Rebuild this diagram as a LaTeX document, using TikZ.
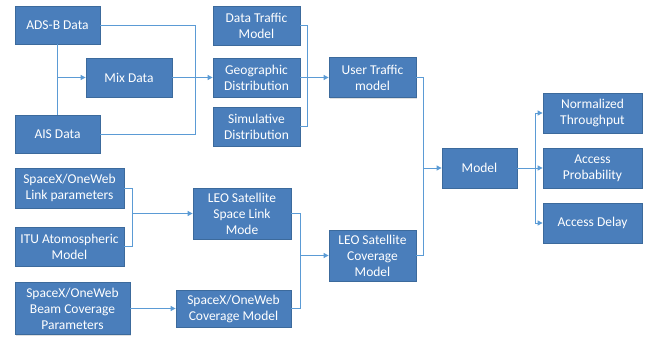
\documentclass[tikz,border=0pt]{standalone}
\usepackage{fontspec}
\setmainfont{Carlito}
\usetikzlibrary{arrows.meta,shadows}
\definecolor{boxfill}{HTML}{4A7EBB}
\definecolor{boxline}{HTML}{3C6A9C}
\definecolor{conn}{HTML}{5B9BD5}
\tikzset{
  box/.style={draw=boxline, line width=0.8pt, fill=boxfill, text=white, align=center,
    font=\fontsize{13.5}{16}\selectfont, inner sep=1pt,
    drop shadow={shadow xshift=1.2pt, shadow yshift=-1.2pt, opacity=0.25}},
  link/.style={draw=conn, line width=0.9pt},
  arr/.style={link, -{Triangle[length=5pt,width=5pt]}}
}
\begin{document}
\begin{tikzpicture}[x=1pt,y=-1pt]
\useasboundingbox (0,0) rectangle (647,337);
% boxes
\node[box, minimum width=85pt, minimum height=38pt] (ads) at (57.5,25) {ADS-B Data};
\node[box, minimum width=85pt, minimum height=38pt] (ais) at (57.5,134) {AIS Data};
\node[box, minimum width=86pt, minimum height=39pt] (mix) at (129,77.5) {Mix Data};
\node[box, minimum width=87pt, minimum height=39pt] (dtm) at (256.5,25.5) {Data Traffic\\Model};
\node[box, minimum width=87pt, minimum height=39pt] (geo) at (256.5,77.5) {Geographic\\Distribution};
\node[box, minimum width=87pt, minimum height=39pt] (sim) at (256.5,126.5) {Simulative\\Distribution};
\node[box, minimum width=87pt, minimum height=40pt] (utm) at (372.5,77.5) {User Traffic\\model};
\node[box, minimum width=75pt, minimum height=40pt] (model) at (479.5,168) {Model};
\node[box, minimum width=87pt, minimum height=51pt] (leocov) at (372.5,255.5) {LEO Satellite\\Coverage\\Model};
\node[box, minimum width=99pt, minimum height=40pt] (nt) at (592.5,113) {Normalized\\Throughput};
\node[box, minimum width=99pt, minimum height=40pt] (ap) at (592.5,168) {Access\\Probability};
\node[box, minimum width=99pt, minimum height=40pt] (ad) at (592.5,223) {Access Delay};
\node[box, minimum width=109pt, minimum height=40pt] (lp) at (69.5,188) {SpaceX/OneWeb\\Link parameters};
\node[box, minimum width=109pt, minimum height=39pt] (itu) at (69.5,246.5) {ITU Atomospheric\\Model};
\node[box, minimum width=115pt, minimum height=52pt] (beam) at (72.5,308.5) {SpaceX/OneWeb\\Beam Coverage\\Parameters};
\node[box, minimum width=98pt, minimum height=51pt] (leolink) at (242,213.5) {LEO Satellite\\Space Link\\Mode};
\node[box, minimum width=115pt, minimum height=37pt] (sxcov) at (233.5,308.5) {SpaceX/OneWeb\\Coverage Model};
% junction coordinates
\coordinate (j1) at (ads.south |- mix.west);
\coordinate (j2) at (195,25);
\coordinate (j3) at (195,134);
\coordinate (j4) at (307,25.5);
\coordinate (j5) at (307,126.5);
\coordinate (j6) at (423,77.5);
\coordinate (j7) at (423,255.5);
\coordinate (j8) at (423,168);
\coordinate (j9) at (535,168);
\coordinate (j10) at (535,113);
\coordinate (j11) at (535,223);
\coordinate (j12) at (132,188);
\coordinate (j13) at (132,246.5);
\coordinate (j14) at (132,213.5);
\coordinate (j15) at (300,213.5);
\coordinate (j16) at (300,308.5);
\coordinate (j17) at (300,255.5);
% connectors
\draw[link] (ads.east) -- (j2) -- (j3) -- (ais.east);
\draw[link] (ads.south) -- (ais.north);
\draw[arr] (j1) -- (mix.west);
\draw[arr] (mix.east) -- (geo.west);
\draw[link] (dtm.east) -- (j4) -- (j5) -- (sim.east);
\draw[arr] (geo.east) -- (utm.west);
\draw[link] (utm.east) -- (j6) -- (j7) -- (leocov.east);
\draw[arr] (j8) -- (model.west);
\draw[link] (model.east) -- (j9);
\draw[link] (j10) -- (j11);
\draw[arr] (j10) -- (nt.west);
\draw[arr] (j9) -- (ap.west);
\draw[arr] (j11) -- (ad.west);
\draw[link] (lp.east) -- (j12) -- (j13) -- (itu.east);
\draw[arr] (j14) -- (leolink.west);
\draw[arr] (beam.east) -- (sxcov.west);
\draw[link] (leolink.east) -- (j15) -- (j16) -- (sxcov.east);
\draw[arr] (j17) -- (leocov.west);
\end{tikzpicture}
\end{document}
